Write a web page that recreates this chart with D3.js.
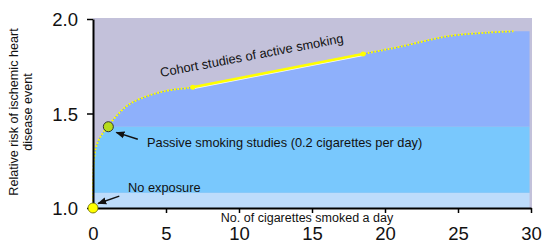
<!DOCTYPE html>
<html>
<head>
<meta charset="utf-8">
<script src="https://cdn.jsdelivr.net/npm/d3@7"></script>
<style>
  body { margin: 0; background: #fff; }
  svg { display: block; font-family: "Liberation Sans", Arial, sans-serif; }
</style>
</head>
<body>
<svg id="chart" width="543" height="247"></svg>
<script>
// risk curve (cigarettes/day, relative risk)
var curveX = [0, 0.01, 0.07, 0.2, 0.5, 1.05, 1.64, 2.5, 3.9, 5.3, 6.83, 18.5, 21, 24.4, 27, 28.8];
var curveY = [1.0, 1.15, 1.254, 1.32, 1.375, 1.435, 1.49, 1.55, 1.597, 1.624, 1.639, 1.815, 1.853, 1.91, 1.928, 1.935];
var cohortX = [6.83, 18.5];
var cohortY = [1.639, 1.815];
var bandTops = [2.0, 1.43, 1.08];
var bandColors = ["#8eb0fb", "#79c8fd", "#bddcfb"];
var xTicks = [0, 5, 10, 15, 20, 25, 30];
var yTicks = [1.0, 1.5, 2.0];

var svg = d3.select("#chart");
var x = d3.scaleLinear().domain([0, 30]).range([93, 531]);
var y = d3.scaleLinear().domain([1, 2]).range([208, 19]);

var pts = curveX.map(function(d, i) { return [d, curveY[i]]; });
var areaPts = pts.concat([[29.9, curveY[curveY.length - 1]]]);

// plot background
svg.append("rect")
    .attr("x", x(0)).attr("y", y(2) - 1)
    .attr("width", x(30) - x(0) + 1).attr("height", y(1) - y(2) + 1)
    .attr("fill", "#c3c1da");

var area = d3.area()
    .x(function(d) { return x(d[0]); })
    .y0(y(1))
    .y1(function(d) { return y(d[1]); })
    .curve(d3.curveCatmullRom);

svg.append("clipPath").attr("id", "under")
  .append("path").attr("d", area(areaPts));

var bands = svg.append("g").attr("clip-path", "url(#under)");
bandTops.forEach(function(t, i) {
  var bottom = i < bandTops.length - 1 ? bandTops[i + 1] : 1;
  bands.append("rect")
      .attr("x", x(0)).attr("y", y(t))
      .attr("width", x(30) - x(0)).attr("height", y(bottom) - y(t))
      .attr("fill", bandColors[i]);
});

var line = d3.line()
    .x(function(d) { return x(d[0]); })
    .y(function(d) { return y(d[1]); })
    .curve(d3.curveCatmullRom);

// thin darker edge, then dotted yellow curve
svg.append("path").attr("d", line(pts))
    .attr("fill", "none").attr("stroke", "#7b97e6").attr("stroke-width", 1);
svg.append("path").attr("d", line(pts))
    .attr("fill", "none").attr("stroke", "#ffff00")
    .attr("stroke-width", 2).attr("stroke-dasharray", "1.8,1.6");

// solid segment for the cohort studies
var cohort = cohortX.map(function(d, i) { return [d, cohortY[i]]; });
svg.append("path").attr("d", d3.line()(cohort.map(function(d) { return [x(d[0]), y(d[1]) + 1.2]; })))
    .attr("stroke", "#f4f6ff").attr("stroke-width", 1.5);
svg.append("path").attr("d", d3.line()(cohort.map(function(d) { return [x(d[0]), y(d[1])]; })))
    .attr("stroke", "#ffff00").attr("stroke-width", 2.5);
svg.selectAll(".cdot").data(cohort).enter().append("circle")
    .attr("cx", function(d) { return x(d[0]); })
    .attr("cy", function(d) { return y(d[1]); })
    .attr("r", 2.5).attr("fill", "#ffff00");

// axes
var xAxis = svg.append("g").attr("transform", "translate(0," + y(1) + ")")
    .call(d3.axisBottom(x).tickValues(xTicks).tickSize(5).tickSizeOuter(0).tickPadding(14));
var yAxis = svg.append("g").attr("transform", "translate(" + x(0) + ",0)")
    .call(d3.axisLeft(y).tickValues(yTicks).tickSize(6).tickSizeOuter(0).tickPadding(9)
      .tickFormat(d3.format(".1f")));
[xAxis, yAxis].forEach(function(a) {
  a.select(".domain").attr("stroke", "#000").attr("stroke-width", 2);
  a.selectAll(".tick line").attr("stroke", "#000").attr("stroke-width", 1.5);
  a.selectAll("text").attr("font-size", 18.5).attr("fill", "#111")
      .attr("font-family", "Liberation Sans, Arial, sans-serif");
});
yAxis.selectAll("text").attr("dy", "0.36em");

// marker points
svg.append("circle").attr("cx", x(0)).attr("cy", y(1)).attr("r", 5)
    .attr("fill", "#ffff00").attr("stroke", "#6b6b00").attr("stroke-width", 0.8);
svg.append("circle").attr("cx", x(1.05)).attr("cy", y(1.43)).attr("r", 5)
    .attr("fill", "#b6dc1c").attr("stroke", "#333").attr("stroke-width", 1);

// arrows
svg.append("defs").append("marker")
    .attr("id", "arr").attr("viewBox", "0 0 10 10")
    .attr("refX", 9).attr("refY", 5)
    .attr("markerWidth", 6).attr("markerHeight", 6)
    .attr("orient", "auto")
  .append("path").attr("d", "M0,1 L10,5 L0,9 Z").attr("fill", "#111");

svg.append("line")
    .attr("x1", x(3.07)).attr("y1", y(1.364)).attr("x2", x(1.6)).attr("y2", y(1.40))
    .attr("stroke", "#111").attr("stroke-width", 1.5).attr("marker-end", "url(#arr)");
svg.append("line")
    .attr("x1", x(1.8)).attr("y1", y(1.063)).attr("x2", x(0.35)).attr("y2", y(1.024))
    .attr("stroke", "#111").attr("stroke-width", 1.5).attr("marker-end", "url(#arr)");

// labels
svg.append("text").attr("x", 147).attr("y", 147)
    .attr("font-size", 12.8).attr("fill", "#111")
    .text("Passive smoking studies (0.2 cigarettes per day)");
svg.append("text").attr("x", 128).attr("y", 192)
    .attr("font-size", 12.8).attr("fill", "#111")
    .text("No exposure");
svg.append("text").attr("transform", "translate(161,77) rotate(-10.7)")
    .attr("font-size", 12.9).attr("fill", "#111")
    .text("Cohort studies of active smoking");

svg.append("text").attr("x", 307).attr("y", 222).attr("text-anchor", "middle")
    .attr("font-size", 12.5).attr("fill", "#111")
    .text("No. of cigarettes smoked a day");

var yl = svg.append("text").attr("transform", "translate(18,112) rotate(-90)")
    .attr("text-anchor", "middle").attr("font-size", 12.6).attr("fill", "#111");
yl.append("tspan").attr("x", 0).attr("dy", 0).text("Relative risk of ischemic heart");
yl.append("tspan").attr("x", 0).attr("dy", 14).text("disease event");
</script>
</body>
</html>
